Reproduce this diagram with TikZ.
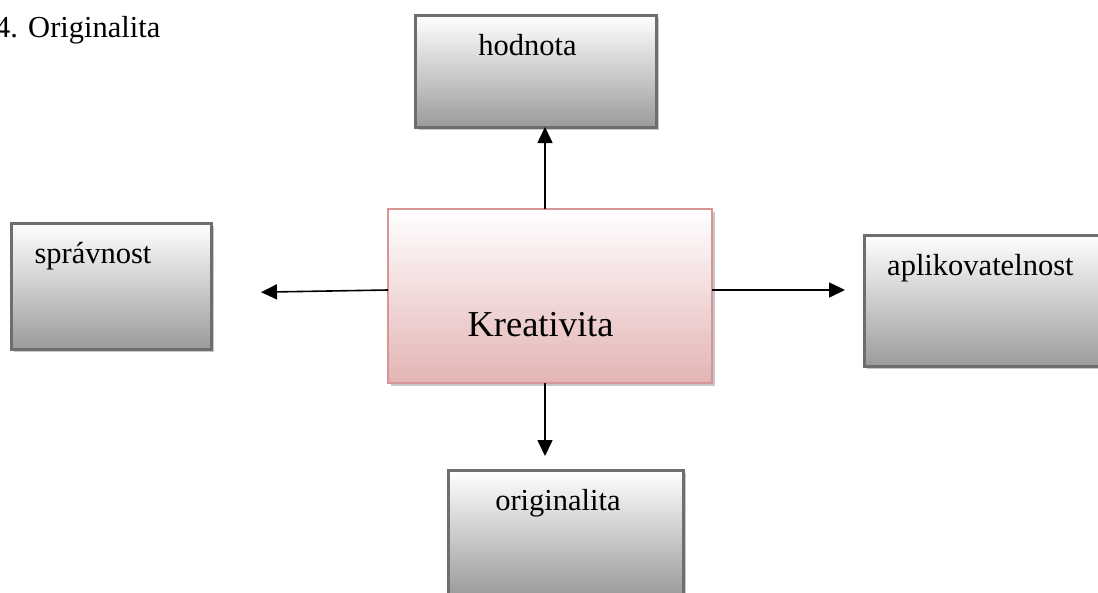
\documentclass[tikz,border=0pt]{standalone}
\usepackage{fontspec}
\setmainfont{Liberation Serif}
\usetikzlibrary{arrows.meta,shadows}
\definecolor{boxborder}{RGB}{110,110,110}
\definecolor{boxbottom}{RGB}{155,155,155}
\definecolor{pinkborder}{RGB}{215,150,150}
\definecolor{pinkbottom}{RGB}{228,180,180}
\definecolor{shadowgray}{RGB}{200,200,200}
\tikzset{
  graybox/.style={rectangle, inner sep=0pt, outer sep=0pt, draw=boxborder, line width=3pt,
    top color=white, bottom color=boxbottom,
    drop shadow={shadow xshift=3pt, shadow yshift=-3pt, fill=shadowgray, opacity=1}},
  pinkbox/.style={rectangle, inner sep=0pt, outer sep=0pt, draw=pinkborder, line width=2.5pt,
    top color=white, bottom color=pinkbottom,
    drop shadow={shadow xshift=3pt, shadow yshift=-3pt, fill=shadowgray, opacity=1}},
  boxtext/.style={inner sep=0pt, font=\fontsize{30.5}{36}\selectfont},
  bigtext/.style={inner sep=0pt, font=\fontsize{36.5}{43}\selectfont},
  arr/.style={-{Triangle[length=16pt,width=15pt]}, line width=1.6pt, black}
}
\begin{document}
\begin{tikzpicture}[x=1pt,y=-1pt]
\useasboundingbox (0,0) rectangle (1098,592);
\clip (0,0) rectangle (1098,592);
\fill[white] (0,0) rectangle (1098,592);
\node[boxtext, anchor=base west] (title) at (-5,37) {4. Originalita};
% boxes
\node[graybox, minimum width=241pt, minimum height=112pt] (hod) at (535.5,71) {};
\node[pinkbox, minimum width=324pt, minimum height=174pt] (kre) at (550,296) {};
\node[graybox, minimum width=200pt, minimum height=126pt] (spr) at (111,286) {};
\node[graybox, minimum width=240pt, minimum height=131pt] (apl) at (984,300.5) {};
\node[graybox, minimum width=235pt, minimum height=125pt] (ori) at (565.5,532.5) {};
% texts
\node[boxtext, anchor=base] (hodt) at (527.5,55) {hodnota};
\node[bigtext, anchor=base] (kret) at (540.5,336) {Kreativita};
\node[boxtext, anchor=base] (sprt) at (93,263) {správnost};
\node[boxtext, anchor=base west] (aplt) at (887,275) {aplikovatelnost};
\node[boxtext, anchor=base] (orit) at (558,510) {originalita};
% connectors
\draw[arr] ([xshift=-5pt]kre.north) -- ([xshift=-5pt]kre.north |- hod.south);
\draw[arr, shorten >=50pt] ([yshift=6pt]kre.west) -- ([yshift=-7pt]spr.east);
\draw[arr, shorten >=19pt] ([yshift=6pt]kre.east) -- ([yshift=10.5pt]apl.west);
\draw[arr, shorten >=14pt] ([xshift=-5pt]kre.south) -- ([xshift=-5pt]kre.south |- ori.north);
\end{tikzpicture}
\end{document}
